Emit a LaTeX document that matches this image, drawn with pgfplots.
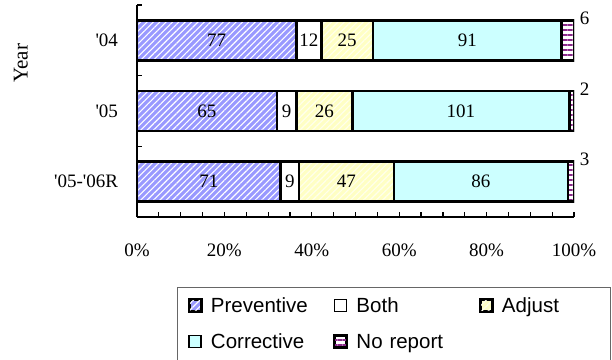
\documentclass[border=0pt]{standalone}
\usepackage{fontspec}
\setmainfont{Liberation Serif}
\newfontfamily\legendfont{Liberation Sans}
\usepackage{pgfplots}
\pgfplotsset{compat=1.18}
\usepackage{pgfplotstable}
\usetikzlibrary{patterns.meta}

\definecolor{prevblue}{HTML}{9999FF}
\definecolor{adjyellow}{HTML}{FFFFC4}
\definecolor{corrcyan}{HTML}{CCFFFF}
\definecolor{noreppurple}{HTML}{8B2A8B}

% Reports per year: row position, preventive, both, adjust, corrective, no report
\pgfplotstableread{
pos P  B  A  C   N
2   77 12 25 91  6
1   65 9  26 101 2
0   71 9  47 86  3
}\counts

\newcommand{\total}{(\thisrow{P}+\thisrow{B}+\thisrow{A}+\thisrow{C}+\thisrow{N})}

\pgfplotsset{
  /pgf/number format/assume math mode=true,
  yearaxis/.style={
    at={(137bp,143bp)}, anchor=south west,
    scale only axis, width=437bp, height=212bp,
    xmin=0, xmax=100, ymin=-0.5, ymax=2.5,
  },
  legend square/.style={
    legend image code/.code={\draw[##1, line width=1.5bp] (0bp,-4bp) rectangle (12bp,8bp);}
  },
  segment/.style={draw=black, line width=2.6bp, legend square},
  seglabel/.style={only marks, mark=none, nodes near coords, point meta=explicit,
    every node near coord/.append style={anchor=center, inner sep=0pt}},
}

\begin{document}
\fontsize{19bp}{22bp}\selectfont
\begin{tikzpicture}
\path[use as bounding box] (0,0) rectangle (612bp,360bp);

\begin{axis}[yearaxis,
  xbar stacked, bar width=40bp,
  axis lines*=left,
  axis line style={line width=1.5bp, black},
  xtick={0,20,...,100}, minor x tick num=3,
  xticklabel={\pgfmathprintnumber{\tick}\%},
  xticklabel style={yshift=-20bp},
  ytick={0,1,2},
  yticklabels={{\textquotesingle05-\textquotesingle06R},{\textquotesingle05},{\textquotesingle04}},
  yticklabel style={xshift=-12.5bp},
  minor ytick={-0.5,0.5,1.5,2.5},
  tick align=inside, major tick length=5bp, minor tick length=5bp,
  tick style={line width=1.2bp, black},
  major y tick style={draw=none},
  ylabel={Year},
  ylabel style={at={(axis description cs:-0.266,0.725)}, anchor=center,
    font=\fontsize{21bp}{24bp}\selectfont},
  legend columns=3,
  legend cell align=left,
  legend style={
    at={(axis description cs:0.0915,-0.330)}, anchor=north west,
    draw=black!60, line width=1bp, fill=white,
    font=\legendfont\fontsize{20.5bp}{24bp}\selectfont,
    inner xsep=11bp, inner ysep=10bp, row sep=16bp,
    nodes={inner xsep=0pt, inner ysep=0pt, text height=15bp, text depth=5bp, text width=123bp},
    /tikz/every odd column/.style={column sep=9bp},
    /tikz/every even column/.style={column sep=0bp},
    /tikz/column 6/.style={nodes={text width=98bp}},
  },
]
\addplot[segment, preaction={fill=prevblue},
  pattern={Lines[angle=45, distance=4.5bp, line width=1.1bp]}, pattern color=white]
  table[x expr=\thisrow{P}/\total*100, y=pos]{\counts};
\addlegendentry{Preventive}
\addplot[segment, fill=white]
  table[x expr=\thisrow{B}/\total*100, y=pos]{\counts};
\addlegendentry{Both}
\addplot[segment, preaction={fill=adjyellow},
  pattern={Lines[angle=45, distance=4.5bp, line width=1.1bp]}, pattern color=white!70!adjyellow]
  table[x expr=\thisrow{A}/\total*100, y=pos]{\counts};
\addlegendentry{Adjust}
\addplot[segment, fill=corrcyan]
  table[x expr=\thisrow{C}/\total*100, y=pos]{\counts};
\addlegendentry{Corrective}
\addplot[segment, preaction={fill=white},
  pattern={Lines[angle=0, distance=5bp, line width=1.8bp]}, pattern color=noreppurple]
  table[x expr=\thisrow{N}/\total*100, y=pos]{\counts};
\addlegendentry{No report}
\end{axis}

% segment counts, centred in each segment
\begin{axis}[yearaxis, hide axis, clip=false]
\addplot[seglabel] table[x expr=0.5*\thisrow{P}/\total*100, y=pos, meta=P]{\counts};
\addplot[seglabel] table[x expr=(\thisrow{P}+0.5*\thisrow{B})/\total*100, y=pos, meta=B]{\counts};
\addplot[seglabel] table[x expr=(\thisrow{P}+\thisrow{B}+0.5*\thisrow{A})/\total*100, y=pos, meta=A]{\counts};
\addplot[seglabel] table[x expr=(\thisrow{P}+\thisrow{B}+\thisrow{A}+0.5*\thisrow{C})/\total*100, y=pos, meta=C]{\counts};
\addplot[seglabel, every node near coord/.append style={xshift=10.5bp, yshift=22bp}]
  table[x expr=100, y=pos, meta=N]{\counts};
\end{axis}
\end{tikzpicture}
\end{document}
